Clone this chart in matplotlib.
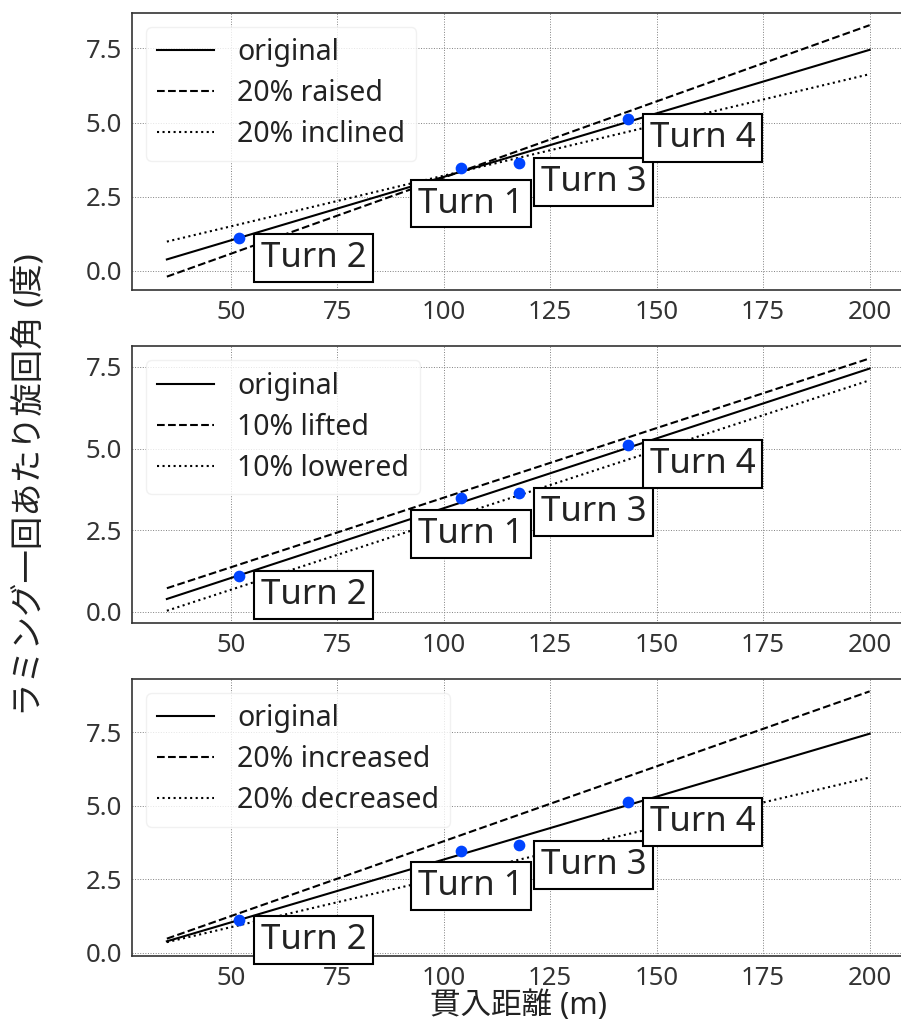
import matplotlib
matplotlib.use('Agg')
import matplotlib.pyplot as plt

plt.rcParams['font.family'] = ['Noto Sans', 'Noto Sans CJK JP', 'DejaVu Sans']

# data
turn_labels = ['Turn 1', 'Turn 2', 'Turn 3', 'Turn 4']
turn_x = [104.1, 52.0, 117.7, 143.3]
turn_y = [3.47, 1.10, 3.65, 5.12]

line_x = [35, 200]
orig_y = [0.39, 7.45]
raised_y = [-0.19, 8.28]
inclined_y = [0.99, 6.63]
lifted_y = [0.72, 7.76]
lowered_y = [0.03, 7.09]
increased_y = [0.48, 8.89]
decreased_y = [0.36, 5.96]

panels = [
    (raised_y, inclined_y, '20% raised', '20% inclined', (-0.64, 8.7)),
    (lifted_y, lowered_y, '10% lifted', '10% lowered', (-0.355, 8.14)),
    (increased_y, decreased_y, '20% increased', '20% decreased', (-0.11, 9.32)),
]

# label offsets (points) for each turn box
offsets = [(7, -25.6), (53.3, -14), (53.6, -14), (53.6, -14)]

fig = plt.figure(figsize=(9.01, 10.24), dpi=100)
bottoms = [0.7168, 0.3913, 0.0664]
axes = []
for i, (up, down, up_lab, down_lab, ylim) in enumerate(panels):
    ax = fig.add_axes([0.1462, bottoms[i], 0.858, 0.2708])
    axes.append(ax)
    ax.plot(line_x, orig_y, color='black', lw=1.5, label='original')
    ax.plot(line_x, up, color='black', lw=1.5, ls='--', label=up_lab)
    ax.plot(line_x, down, color='black', lw=1.5, ls=':', label=down_lab)
    ax.scatter(turn_x, turn_y, color='#0044ff', s=55, zorder=3)
    for lab, x, y, off in zip(turn_labels, turn_x, turn_y, offsets):
        ax.annotate(lab, (x, y), xytext=off, textcoords='offset points',
                    ha='center', va='center', fontsize=25, color='#222222',
                    bbox=dict(boxstyle='square,pad=0.2', fc='white', ec='black', lw=1.5),
                    zorder=4)
    ax.set_xlim(26.75, 208.25)
    ax.set_ylim(*ylim)
    ax.set_xticks([50, 75, 100, 125, 150, 175, 200])
    ax.set_yticks([0.0, 2.5, 5.0, 7.5])
    ax.grid(True, ls=':', color='gray', lw=0.7)
    ax.set_axisbelow(True)
    ax.tick_params(labelsize=18.5, length=0, pad=7, colors='#333333')
    for s in ax.spines.values():
        s.set_color('#333333')
        s.set_linewidth(1.2)
    ax.legend(loc='upper left', fontsize=20.5, frameon=True, framealpha=0.8,
              edgecolor='#eeeeee', labelcolor='#222222', handlelength=2.0,
              labelspacing=0.42)

axes[1].set_ylabel('ラミング一回あたり旋回角 (度)', fontsize=24, labelpad=28, color='#222222')
axes[2].set_xlabel('貫入距離 (m)', fontsize=22, labelpad=0, color='#222222')

fig.savefig('out.png', dpi=100)
